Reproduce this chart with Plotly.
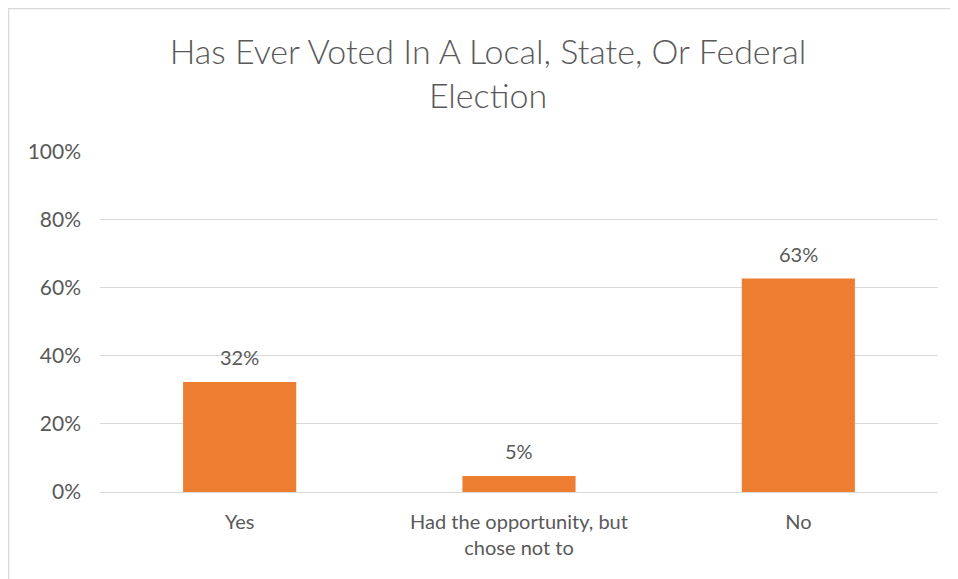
import plotly.graph_objects as go

categories = ["Yes", "Had the opportunity, but<br>chose not to", "No"]
values = [0.323, 0.047, 0.627]
labels = ["32%", "5%", "63%"]
tick_vals = [0, 0.2, 0.4, 0.6, 0.8, 1.0]
tick_text = ["0%", "20%", "40%", "60%", "80%", "100%"]

# page body has an 8px margin, so figure px = picture px - 8
W, H = 958, 579
ml, mr, mt, mb = 92, 28, 143, 95
pw, ph = W - ml - mr, H - mt - mb

def px_x(p):
    return (p - ml) / pw

def px_y(p):
    return (H - mb - p) / ph

fig = go.Figure(go.Bar(
    x=categories, y=values,
    marker=dict(color="#ED7D31", line=dict(width=0)),
    width=0.405, hoverinfo="skip",
))

for c, v, t in zip(categories, values, labels):
    fig.add_annotation(x=c, y=v, text=t, showarrow=False, yanchor="middle",
                       yshift=25, font=dict(family="Lato", size=20, color="#595959"))

fig.update_layout(
    width=W, height=H,
    margin=dict(l=ml, r=mr, t=mt, b=mb),
    paper_bgcolor="white", plot_bgcolor="white",
    showlegend=False,
    title=dict(text="Has Ever Voted In A Local, State, Or Federal<br>Election",
               x=px_x(480), xanchor="center", xref="paper",
               y=1 - 56 / H, yanchor="middle",
               font=dict(family="Lato", size=34, weight=300, color="#595959")),
    font=dict(family="Lato", color="#595959"),
    xaxis=dict(showgrid=False, showline=False, ticks="", ticklabelstandoff=16,
               tickfont=dict(family="Lato", size=20, color="#595959")),
    yaxis=dict(range=[0, 1.002], tickvals=tick_vals, ticktext=tick_text,
               showgrid=True, gridcolor="#D9D9D9", gridwidth=1,
               zeroline=True, zerolinecolor="#D9D9D9", zerolinewidth=1,
               showline=False, ticks="", ticklabelstandoff=18,
               tickfont=dict(family="Lato", size=21, color="#595959")),
    shapes=[
        dict(type="line", xref="paper", yref="paper",
             x0=px_x(0), x1=px_x(W), y0=px_y(0.5), y1=px_y(0.5),
             line=dict(color="#D9D9D9", width=1.5)),
        dict(type="line", xref="paper", yref="paper",
             x0=px_x(0.5), x1=px_x(0.5), y0=px_y(0), y1=px_y(H),
             line=dict(color="#D9D9D9", width=1.5)),
    ],
)

fig.write_html("out.html")
